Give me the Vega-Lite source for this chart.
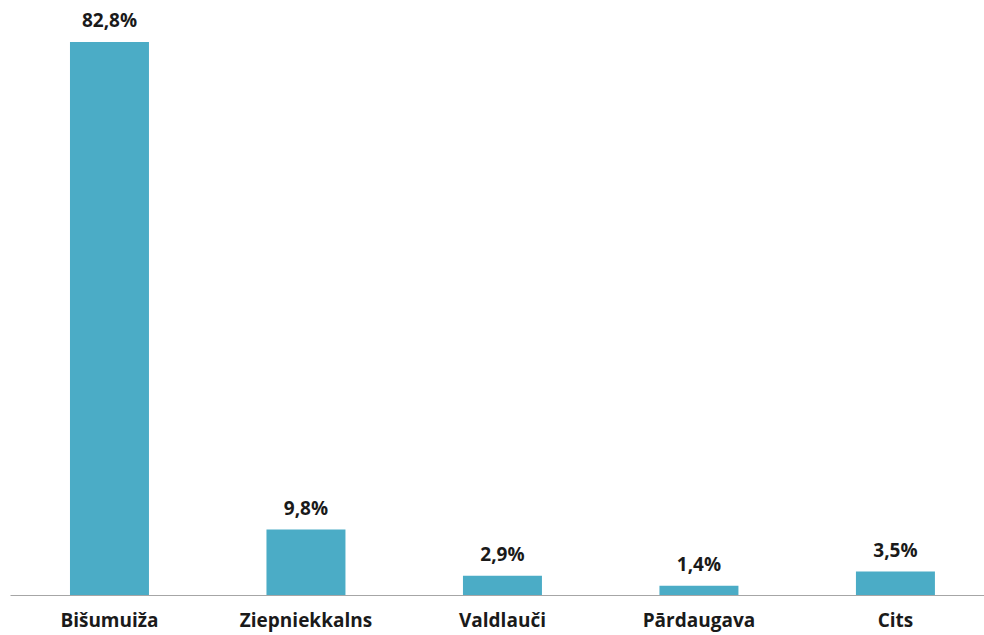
{
  "$schema": "https://vega.github.io/schema/vega-lite/v6.json",
  "autosize": {"type": "fit", "contains": "padding"},
  "width": 984,
  "height": 635,
  "padding": {"left": 10, "top": 5, "right": 0, "bottom": 5},
  "background": "white",
  "config": {"view": {"stroke": null}},
  "data": {"values": [
    {"vieta": "Bišumuiža", "procenti": 82.8, "teksts": "82,8%"},
    {"vieta": "Ziepniekkalns", "procenti": 9.8, "teksts": "9,8%"},
    {"vieta": "Valdlauči", "procenti": 2.9, "teksts": "2,9%"},
    {"vieta": "Pārdaugava", "procenti": 1.4, "teksts": "1,4%"},
    {"vieta": "Cits", "procenti": 3.5, "teksts": "3,5%"}
  ]},
  "encoding": {
    "x": {
      "field": "vieta", "type": "nominal", "sort": null,
      "scale": {"paddingInner": 0.598, "paddingOuter": 0.2775, "align": 0.55},
      "axis": {
        "title": null, "labelAngle": 0, "ticks": false,
        "domainColor": "#a6a6a6", "domainWidth": 1.2,
        "labelFont": "Open Sans", "labelFontWeight": "bold", "labelFontSize": 19,
        "labelColor": "#1a1a1a", "labelPadding": 16
      }
    },
    "y": {
      "field": "procenti", "type": "quantitative",
      "scale": {"domain": [0, 88.33], "nice": false, "zero": true},
      "axis": null
    }
  },
  "layer": [
    {"mark": {"type": "bar", "color": "#4BACC6"}},
    {
      "mark": {"type": "text", "baseline": "alphabetic", "dy": -15, "font": "Open Sans", "fontWeight": "bold", "fontSize": 19, "color": "#1a1a1a"},
      "encoding": {"text": {"field": "teksts"}}
    }
  ]
}
